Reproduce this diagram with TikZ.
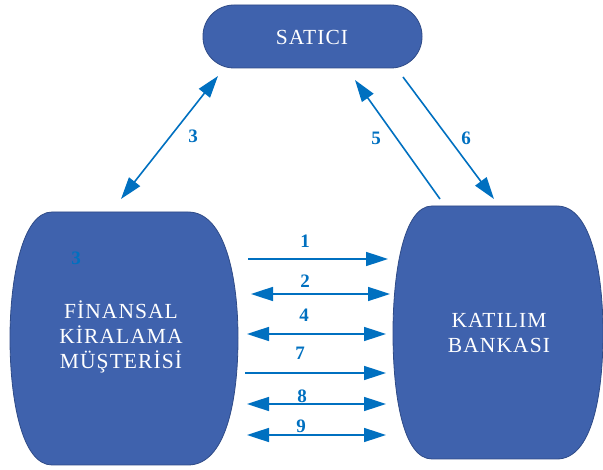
\documentclass[tikz,border=0pt]{standalone}
\usepackage{fontspec}
\setmainfont{Liberation Serif}
\newfontfamily\boxfont[LetterSpace=5]{Liberation Serif}
\usetikzlibrary{arrows.meta}
\definecolor{shapefill}{RGB}{63,98,173}
\definecolor{shapeline}{RGB}{47,75,135}
\definecolor{arrowblue}{RGB}{0,112,192}
\tikzset{
  barrel/.style={fill=shapefill, draw=shapeline, line width=0.8pt},
  boxtext/.style={text=white, font=\boxfont\fontsize{21.5}{25}\selectfont, align=center, inner sep=0pt},
  conn/.style={draw=arrowblue, line width=1.6pt, -{Triangle[length=22pt,width=14pt]}},
  conn2/.style={draw=arrowblue, line width=1.6pt, {Triangle[length=22pt,width=14pt]}-{Triangle[length=22pt,width=14pt]}},
  num/.style={text=arrowblue, font=\bfseries\fontsize{19}{20}\selectfont, inner sep=0pt}
}
\begin{document}
\begin{tikzpicture}[x=1pt,y=-1pt]
\useasboundingbox (0,0) rectangle (603,470);
% SATICI
\draw[barrel, rounded corners=31pt] (203,5) rectangle (422,68);
\node[boxtext] (satici) at (312,37) {SATICI};
% left barrel
\draw[barrel] (52,212) -- (188,212) .. controls (226,212) and (238,280) .. (238,338)
  .. controls (238,400) and (226,465) .. (188,465) -- (52,465)
  .. controls (22,465) and (10,400) .. (10,338)
  .. controls (10,280) and (22,212) .. (52,212) -- cycle;
\node[boxtext] (musteri) at (121,337) {FİNANSAL\\KİRALAMA\\MÜŞTERİSİ};
\node[num] (n3b) at (76,258) {3};
% right barrel
\draw[barrel] (432,206) -- (557,206) .. controls (592,206) and (603,275) .. (603,333)
  .. controls (603,395) and (592,459) .. (557,459) -- (432,459)
  .. controls (403,459) and (393,395) .. (393,333)
  .. controls (393,275) and (403,206) .. (432,206) -- cycle;
\node[boxtext] (banka) at (499,333) {KATILIM\\BANKASI};
% diagonal arrow endpoints
\coordinate (a3s) at (121,199);
\coordinate (a3e) at (218,76);
\coordinate (a5s) at (440,199);
\coordinate (a5e) at (355,80);
\coordinate (a6s) at (403,77);
\coordinate (a6e) at (494,199);
\draw[conn2] (a3s) -- (a3e);
\draw[conn] (a5s) -- (a5e);
\draw[conn] (a6s) -- (a6e);
\node[num] (l3) at (193,136) {3};
\node[num] (l5) at (376,138) {5};
\node[num] (l6) at (466,138) {6};
% horizontal arrows
\coordinate (h1s) at (248,259); \coordinate (h1e) at (388,259);
\coordinate (h2s) at (251,294); \coordinate (h2e) at (390,294);
\coordinate (h4s) at (247,334); \coordinate (h4e) at (386,334);
\coordinate (h7s) at (245,373); \coordinate (h7e) at (386,373);
\coordinate (h8s) at (247,404); \coordinate (h8e) at (386,404);
\coordinate (h9s) at (247,435); \coordinate (h9e) at (386,435);
\draw[conn] (h1s) -- (h1e);
\draw[conn2] (h2s) -- (h2e);
\draw[conn2] (h4s) -- (h4e);
\draw[conn] (h7s) -- (h7e);
\draw[conn2] (h8s) -- (h8e);
\draw[conn2] (h9s) -- (h9e);
\node[num] (l1) at (305,241) {1};
\node[num] (l2) at (305,281) {2};
\node[num] (l4) at (304,315) {4};
\node[num] (l7) at (300,353) {7};
\node[num] (l8) at (302,396) {8};
\node[num] (l9) at (301,426) {9};
\end{tikzpicture}
\end{document}
